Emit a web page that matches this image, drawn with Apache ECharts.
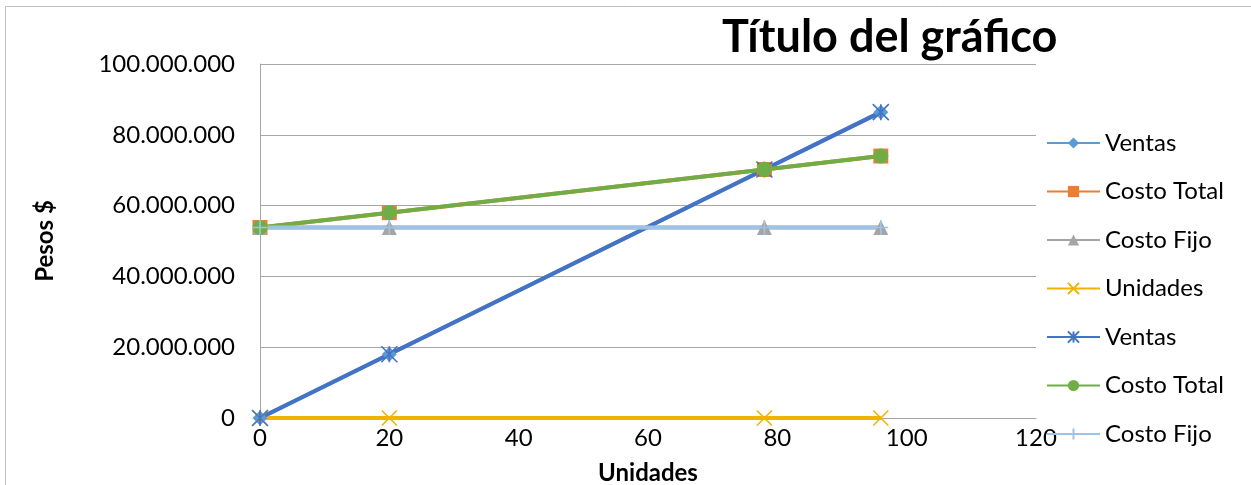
<!DOCTYPE html>
<html>
<head>
<meta charset="utf-8">
<script src="https://cdn.jsdelivr.net/npm/echarts@6/dist/echarts.min.js"></script>
<style>
  html, body { margin: 0; padding: 0; background: #fff; }
  #chart { width: 1251px; height: 485px; }
</style>
</head>
<body>
<div id="chart"></div>
<script>
// Units sold (x values)
const unidadesX = [0, 20, 78, 96];
// Pesos values per series
const ventas = [0, 18000000, 70200000, 86400000];
const costoTotal = [53800000, 58000000, 70200000, 74000000];
const costoFijo = [53800000, 53800000, 53800000, 53800000];
const unidades = [0, 0, 0, 0];

const seriesNames = ['Ventas', 'Costo Total', 'Costo Fijo', 'Unidades', 'Ventas', 'Costo Total', 'Costo Fijo'];

// Repeated names need distinct keys so every series keeps its own legend entry
const ZW = '\u200B';
const seriesKeys = seriesNames.map((n, i) => n + ZW.repeat(i));

const FONT = 'Lato';

// Stroke-only marker shapes
const SYM_DIAMOND = 'path://M5,0L10,5L5,10L0,5Z';
const SYM_X = 'path://M0,0L10,10M10,0L0,10';
const SYM_STAR = 'path://M0,0L10,10M10,0L0,10M5,0L5,10';
const SYM_PLUS = 'path://M0,5L10,5M5,0L5,10';

function pair(ys) {
  return unidadesX.map((x, i) => [x, ys[i]]);
}

function fmtPesos(v) {
  return String(Math.round(v)).replace(/\B(?=(\d{3})+(?!\d))/g, '.');
}

function filled(i, ys, color, symbol, size) {
  return {
    name: seriesKeys[i], type: 'line', data: pair(ys),
    symbol: symbol, symbolSize: size, showAllSymbol: true,
    lineStyle: { color: color, width: 4 },
    itemStyle: { color: color },
    emphasis: { disabled: true }
  };
}

function stroked(i, ys, color, symbol, size) {
  return {
    name: seriesKeys[i], type: 'line', data: pair(ys),
    symbol: symbol, symbolSize: size, showAllSymbol: true,
    lineStyle: { color: color, width: 4 },
    itemStyle: { color: 'rgba(0,0,0,0)', borderColor: color, borderWidth: 1.6 },
    emphasis: { disabled: true }
  };
}

const chart = echarts.init(document.getElementById('chart'), null, { renderer: 'canvas' });

chart.setOption({
  animation: false,
  backgroundColor: '#fff',
  graphic: [{
    type: 'rect', silent: true,
    shape: { x: 5.5, y: 6.5, width: 1400, height: 600 },
    style: { fill: 'none', stroke: '#BFBFBF', lineWidth: 1 }
  }],
  title: {
    text: 'Título del gráfico',
    left: 722, top: 15, padding: 0,
    textStyle: { fontFamily: FONT, fontWeight: 'bold', fontSize: 45, color: '#000' }
  },
  legend: {
    orient: 'vertical',
    left: 1046, top: 131,
    itemWidth: 53, itemHeight: 14, itemGap: 24.5,
    padding: 0,
    data: seriesKeys.map(k => ({ name: k })),
    formatter: name => name.replace(/\u200B/g, ''),
    textStyle: { fontFamily: FONT, fontSize: 24, lineHeight: 24, color: '#000' }
  },
  grid: { left: 260, top: 64, right: 215, bottom: 67, containLabel: false, outerBoundsMode: 'none' },
  xAxis: {
    type: 'value', min: 0, max: 120, interval: 20,
    name: 'Unidades', nameLocation: 'middle', nameGap: 43,
    nameTextStyle: { fontFamily: FONT, fontWeight: 'bold', fontSize: 24, color: '#000' },
    axisLine: { show: true, onZero: false, lineStyle: { color: '#A6A6A6', width: 1 } },
    axisTick: { show: false },
    splitLine: { show: false },
    axisLabel: { fontFamily: FONT, fontSize: 24, color: '#000', margin: 8 }
  },
  yAxis: {
    type: 'value', min: 0, max: 100000000, interval: 20000000,
    name: 'Pesos $', nameLocation: 'middle', nameGap: 203, nameRotate: 90,
    nameTextStyle: { fontFamily: FONT, fontWeight: 'bold', fontSize: 24, color: '#000' },
    axisLine: { show: true, lineStyle: { color: '#A6A6A6', width: 1 } },
    axisTick: { show: false },
    splitLine: { show: true, lineStyle: { color: '#A6A6A6', width: 1 } },
    axisLabel: { fontFamily: FONT, fontSize: 24, color: '#000', margin: 25, formatter: fmtPesos }
  },
  series: [
    filled(0, ventas, '#5B9BD5', SYM_DIAMOND, 15),
    filled(1, costoTotal, '#ED7D31', 'rect', 15),
    filled(2, costoFijo, '#A5A5A5', 'triangle', 15),
    stroked(3, unidades, '#F0B400', SYM_X, 15),
    stroked(4, ventas, '#4472C4', SYM_STAR, 16),
    filled(5, costoTotal, '#70AD47', 'circle', 15),
    stroked(6, costoFijo, '#9DC3E6', SYM_PLUS, 15)
  ]
});
</script>
</body>
</html>
